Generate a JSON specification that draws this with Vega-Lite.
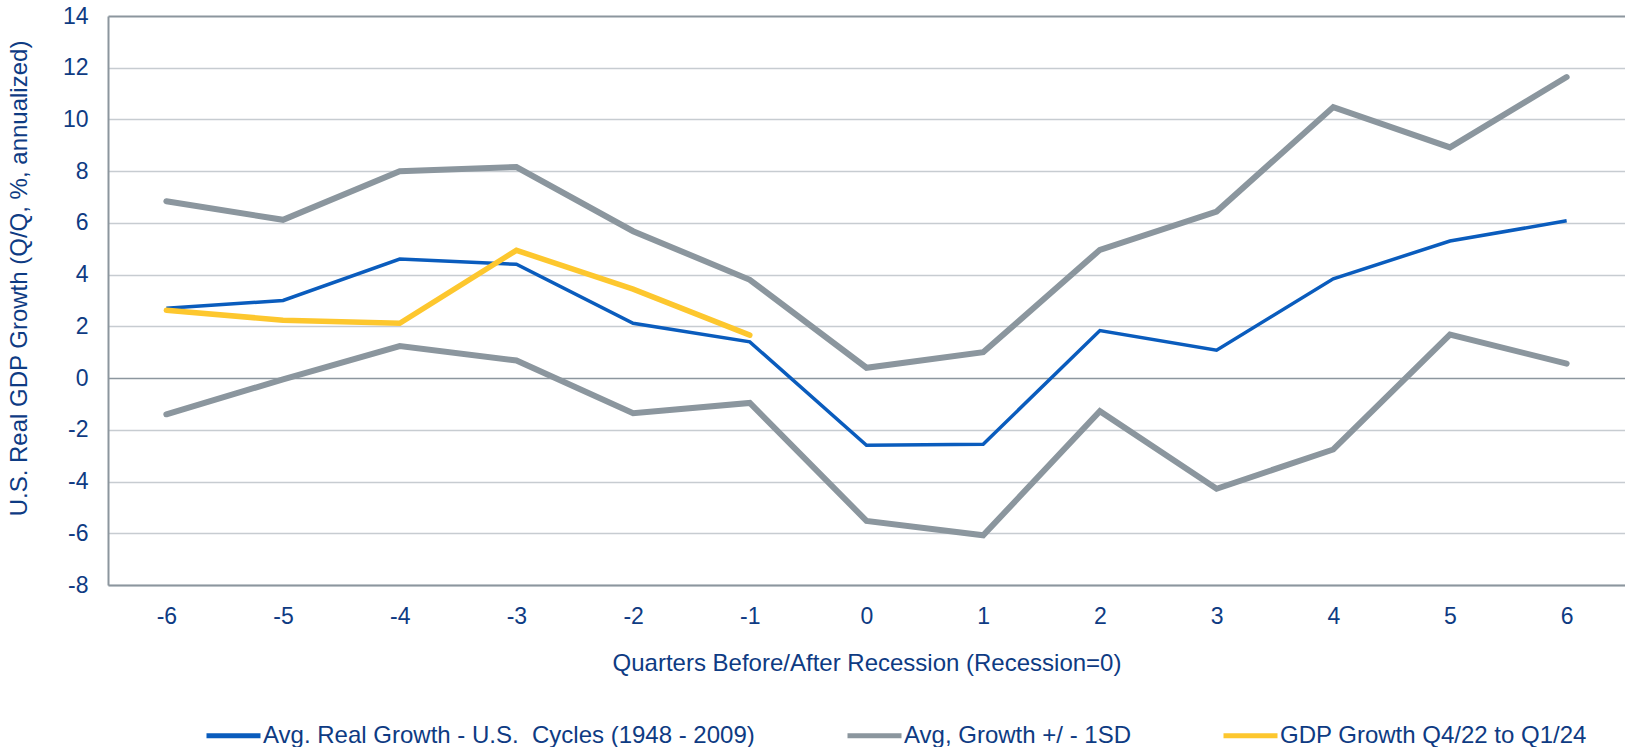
{
  "$schema": "https://vega.github.io/schema/vega-lite/v6.json",
  "autosize": {"type": "none"},
  "padding": {"left": 108, "top": 16, "right": 0, "bottom": 162},
  "width": 1517,
  "height": 569,
  "background": "white",
  "config": {
    "view": {"stroke": null},
    "font": "Liberation Sans",
    "axis": {"labelFont": "Liberation Sans", "titleFont": "Liberation Sans", "labelColor": "#0e3b83", "titleColor": "#0e3b83", "titleFontWeight": "normal"},
    "legend": {"labelFont": "Liberation Sans", "labelColor": "#0e3b83"}
  },
  "data": {
    "values": [
      {"q": -6, "series": "avg", "label": "Avg. Real Growth - U.S. \u00a0Cycles (1948 - 2009)", "value": 2.7},
      {"q": -5, "series": "avg", "label": "Avg. Real Growth - U.S. \u00a0Cycles (1948 - 2009)", "value": 3.0},
      {"q": -4, "series": "avg", "label": "Avg. Real Growth - U.S. \u00a0Cycles (1948 - 2009)", "value": 4.6},
      {"q": -3, "series": "avg", "label": "Avg. Real Growth - U.S. \u00a0Cycles (1948 - 2009)", "value": 4.4},
      {"q": -2, "series": "avg", "label": "Avg. Real Growth - U.S. \u00a0Cycles (1948 - 2009)", "value": 2.12},
      {"q": -1, "series": "avg", "label": "Avg. Real Growth - U.S. \u00a0Cycles (1948 - 2009)", "value": 1.4},
      {"q": 0, "series": "avg", "label": "Avg. Real Growth - U.S. \u00a0Cycles (1948 - 2009)", "value": -2.6},
      {"q": 1, "series": "avg", "label": "Avg. Real Growth - U.S. \u00a0Cycles (1948 - 2009)", "value": -2.56},
      {"q": 2, "series": "avg", "label": "Avg. Real Growth - U.S. \u00a0Cycles (1948 - 2009)", "value": 1.84},
      {"q": 3, "series": "avg", "label": "Avg. Real Growth - U.S. \u00a0Cycles (1948 - 2009)", "value": 1.08},
      {"q": 4, "series": "avg", "label": "Avg. Real Growth - U.S. \u00a0Cycles (1948 - 2009)", "value": 3.84},
      {"q": 5, "series": "avg", "label": "Avg. Real Growth - U.S. \u00a0Cycles (1948 - 2009)", "value": 5.3},
      {"q": 6, "series": "avg", "label": "Avg. Real Growth - U.S. \u00a0Cycles (1948 - 2009)", "value": 6.08},
      {"q": -6, "series": "upper", "label": "Avg, Growth +/ - 1SD", "value": 6.84},
      {"q": -5, "series": "upper", "label": "Avg, Growth +/ - 1SD", "value": 6.12},
      {"q": -4, "series": "upper", "label": "Avg, Growth +/ - 1SD", "value": 8.0},
      {"q": -3, "series": "upper", "label": "Avg, Growth +/ - 1SD", "value": 8.16},
      {"q": -2, "series": "upper", "label": "Avg, Growth +/ - 1SD", "value": 5.68},
      {"q": -1, "series": "upper", "label": "Avg, Growth +/ - 1SD", "value": 3.8},
      {"q": 0, "series": "upper", "label": "Avg, Growth +/ - 1SD", "value": 0.4},
      {"q": 1, "series": "upper", "label": "Avg, Growth +/ - 1SD", "value": 1.0},
      {"q": 2, "series": "upper", "label": "Avg, Growth +/ - 1SD", "value": 4.96},
      {"q": 3, "series": "upper", "label": "Avg, Growth +/ - 1SD", "value": 6.44},
      {"q": 4, "series": "upper", "label": "Avg, Growth +/ - 1SD", "value": 10.48},
      {"q": 5, "series": "upper", "label": "Avg, Growth +/ - 1SD", "value": 8.92},
      {"q": 6, "series": "upper", "label": "Avg, Growth +/ - 1SD", "value": 11.64},
      {"q": -6, "series": "lower", "label": "Avg, Growth +/ - 1SD", "value": -1.4},
      {"q": -5, "series": "lower", "label": "Avg, Growth +/ - 1SD", "value": -0.05},
      {"q": -4, "series": "lower", "label": "Avg, Growth +/ - 1SD", "value": 1.24},
      {"q": -3, "series": "lower", "label": "Avg, Growth +/ - 1SD", "value": 0.68},
      {"q": -2, "series": "lower", "label": "Avg, Growth +/ - 1SD", "value": -1.36},
      {"q": -1, "series": "lower", "label": "Avg, Growth +/ - 1SD", "value": -0.96},
      {"q": 0, "series": "lower", "label": "Avg, Growth +/ - 1SD", "value": -5.52},
      {"q": 1, "series": "lower", "label": "Avg, Growth +/ - 1SD", "value": -6.08},
      {"q": 2, "series": "lower", "label": "Avg, Growth +/ - 1SD", "value": -1.28},
      {"q": 3, "series": "lower", "label": "Avg, Growth +/ - 1SD", "value": -4.28},
      {"q": 4, "series": "lower", "label": "Avg, Growth +/ - 1SD", "value": -2.76},
      {"q": 5, "series": "lower", "label": "Avg, Growth +/ - 1SD", "value": 1.68},
      {"q": 6, "series": "lower", "label": "Avg, Growth +/ - 1SD", "value": 0.56},
      {"q": -6, "series": "current", "label": "GDP Growth Q4/22 to Q1/24", "value": 2.62},
      {"q": -5, "series": "current", "label": "GDP Growth Q4/22 to Q1/24", "value": 2.24},
      {"q": -4, "series": "current", "label": "GDP Growth Q4/22 to Q1/24", "value": 2.12},
      {"q": -3, "series": "current", "label": "GDP Growth Q4/22 to Q1/24", "value": 4.94},
      {"q": -2, "series": "current", "label": "GDP Growth Q4/22 to Q1/24", "value": 3.44},
      {"q": -1, "series": "current", "label": "GDP Growth Q4/22 to Q1/24", "value": 1.66}
    ]
  },
  "encoding": {
    "x": {
      "field": "q", "type": "ordinal",
      "scale": {"padding": 0.5},
      "axis": {
        "title": "Quarters Before/After Recession (Recession=0)",
        "labelAngle": 0, "labelFontSize": 23, "titleFontSize": 24,
        "ticks": false, "tickSize": 0, "labelPadding": 20, "titlePadding": 23,
        "domainColor": "#8c969e", "domainWidth": 2, "grid": false
      }
    },
    "y": {
      "field": "value", "type": "quantitative",
      "scale": {"domain": [-8, 14], "nice": false, "zero": false},
      "axis": {
        "title": "U.S. Real GDP Growth (Q/Q, %, annualized)",
        "values": [-8, -6, -4, -2, 0, 2, 4, 6, 8, 10, 12, 14],
        "labelExpr": "toString(datum.value)",
        "labelFontSize": 23, "titleFontSize": 24,
        "ticks": false, "tickSize": 0, "labelPadding": 20, "titlePadding": 31,
        "titleY": 262,
        "domainColor": "#8c969e", "domainWidth": 2,
        "grid": true,
        "gridColor": {"condition": {"test": "datum.value === 0 || datum.value === 14", "value": "#8c969e"}, "value": "#c7ccd1"},
        "gridWidth": {"condition": {"test": "datum.value === 14", "value": 2}, "value": 1.5}
      }
    },
    "color": {
      "field": "label", "type": "nominal",
      "scale": {
        "domain": ["Avg. Real Growth - U.S. \u00a0Cycles (1948 - 2009)", "Avg, Growth +/ - 1SD", "GDP Growth Q4/22 to Q1/24"],
        "range": ["#0a5cbd", "#8b969e", "#fdc72e"]
      },
      "legend": {
        "title": null, "orient": "none", "direction": "horizontal",
        "legendX": 96, "legendY": 690,
        "symbolType": "stroke", "symbolSize": 2916, "symbolStrokeWidth": 5,
        "labelFontSize": 24, "labelOffset": 0, "columnPadding": 82,
        "labelLimit": 1000
      }
    }
  },
  "layer": [
    {
      "transform": [{"filter": "datum.series === 'upper' || datum.series === 'lower'"}],
      "mark": {"type": "line", "strokeWidth": 6, "strokeCap": "round", "strokeJoin": "miter"},
      "encoding": {"detail": {"field": "series"}}
    },
    {
      "transform": [{"filter": "datum.series === 'avg'"}],
      "mark": {"type": "line", "strokeWidth": 3.5, "strokeJoin": "miter"}
    },
    {
      "transform": [{"filter": "datum.series === 'current'"}],
      "mark": {"type": "line", "strokeWidth": 5.5, "strokeCap": "round", "strokeJoin": "miter"}
    }
  ]
}
